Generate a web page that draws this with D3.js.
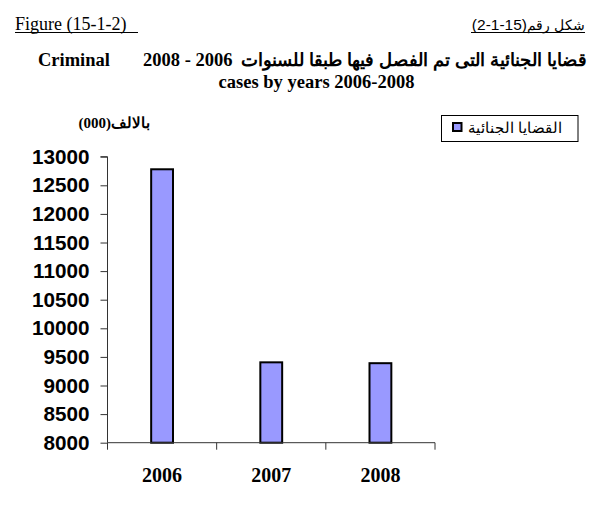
<!DOCTYPE html>
<html>
<head>
<meta charset="utf-8">
<script src="https://cdn.jsdelivr.net/npm/d3@7/dist/d3.min.js"></script>
<style>
  html, body { margin: 0; padding: 0; background: #fff; }
  svg { display: block; }
  text { white-space: pre; }
</style>
</head>
<body>
<svg id="chart" width="600" height="517"></svg>
<script>
// Criminal cases decided, in thousands, by year
const years = ["2006", "2007", "2008"];
const cases = [12780, 9405, 9390];
const yTicks = [8000, 8500, 9000, 9500, 10000, 10500, 11000, 11500, 12000, 12500, 13000];
const seriesName = "القضايا الجنائية";
const unitLabel = "بالالف(000)";
const titleArabic = "قضايا الجنائية التى تم الفصل فيها طبقا للسنوات";
const titleYears = "2008 - 2006";
const titleEn1 = "Criminal";
const titleEn2 = "cases by years 2006-2008";
const figEn = "Figure (15-1-2)";
const figArWord = "شكل رقم";
const figArNum = "(2-1-15)";

const svg = d3.select("#chart");
const serif = "'Liberation Serif', 'Times New Roman', serif";
const sans = "'Liberation Sans', Arial, sans-serif";
const barFill = "#9999FF";

const plot = { left: 107.5, right: 435, top: 156.7, bottom: 442.7 };

const x = d3.scaleBand()
  .domain(years)
  .range([plot.left, plot.right])
  .paddingInner(0.8)
  .paddingOuter(0.4);

const y = d3.scaleLinear()
  .domain([8000, 13000])
  .range([plot.bottom, plot.top]);

// Header line
svg.append("text")
  .attr("x", 15).attr("y", 30)
  .attr("font-family", serif).attr("font-size", 18)
  .text(figEn);
svg.append("line")
  .attr("x1", 15).attr("x2", 138).attr("y1", 32.5).attr("y2", 32.5)
  .attr("stroke", "#000").attr("stroke-width", 1);

svg.append("text")
  .attr("x", 585).attr("y", 30)
  .attr("text-anchor", "end")
  .attr("font-family", sans).attr("font-size", 13.5)
  .text(figArWord);
svg.append("text")
  .attr("x", 527).attr("y", 30)
  .attr("text-anchor", "end")
  .attr("font-family", sans).attr("font-size", 15.5)
  .text(figArNum);
svg.append("line")
  .attr("x1", 471).attr("x2", 585).attr("y1", 32.5).attr("y2", 32.5)
  .attr("stroke", "#000").attr("stroke-width", 1);

// Title, first line: Arabic words on the right, years, then "Criminal" on the left
svg.append("text")
  .attr("x", 587).attr("y", 66)
  .attr("text-anchor", "end")
  .attr("font-family", sans).attr("font-size", 18).attr("font-weight", "bold")
  .attr("textLength", 346).attr("lengthAdjust", "spacingAndGlyphs")
  .text(titleArabic);
svg.append("text")
  .attr("x", 143).attr("y", 66)
  .attr("font-family", serif).attr("font-size", 18.5).attr("font-weight", "bold")
  .text(titleYears);
svg.append("text")
  .attr("x", 38).attr("y", 66)
  .attr("font-family", serif).attr("font-size", 18.5).attr("font-weight", "bold")
  .text(titleEn1);
svg.append("text")
  .attr("x", 316.5).attr("y", 88)
  .attr("text-anchor", "middle")
  .attr("font-family", serif).attr("font-size", 18.5).attr("font-weight", "bold")
  .text(titleEn2);

// Unit label
svg.append("text")
  .attr("x", 150).attr("y", 128)
  .attr("direction", "rtl")
  .attr("text-anchor", "start")
  .attr("font-family", serif).attr("font-size", 15).attr("font-weight", "bold")
  .text(unitLabel);

// Y axis
const yAxis = d3.axisLeft(y).tickValues(yTicks).tickSize(7).tickPadding(11).tickFormat(d3.format("d"));
const gy = svg.append("g")
  .attr("transform", `translate(${plot.left},0)`)
  .call(yAxis);
gy.select(".domain").attr("stroke", "#333").attr("d", `M-7,${plot.top}H0V${plot.bottom}`);
gy.selectAll(".tick line").attr("stroke", "#333");
gy.selectAll(".tick text")
  .attr("font-family", sans).attr("font-size", 20.7).attr("font-weight", "bold").attr("fill", "#000");

// Bars
svg.append("g").selectAll("rect")
  .data(years.map((yr, i) => ({ yr, v: cases[i] })))
  .join("rect")
  .attr("x", d => x(d.yr))
  .attr("width", x.bandwidth())
  .attr("y", d => y(d.v))
  .attr("height", d => y(8000) - y(d.v))
  .attr("fill", barFill)
  .attr("stroke", "#000")
  .attr("stroke-width", 2);

// X axis with tick marks between categories
const gx = svg.append("g");
gx.append("line")
  .attr("x1", plot.left).attr("x2", plot.right)
  .attr("y1", plot.bottom).attr("y2", plot.bottom)
  .attr("stroke", "#333");
const step = x.step();
d3.range(years.length + 1).forEach(i => {
  const tx = plot.left + i * step;
  gx.append("line")
    .attr("x1", tx).attr("x2", tx)
    .attr("y1", plot.bottom).attr("y2", plot.bottom + 7)
    .attr("stroke", "#333");
});
gx.selectAll("text.cat")
  .data(years)
  .join("text")
  .attr("class", "cat")
  .attr("x", d => x(d) + x.bandwidth() / 2)
  .attr("y", 481.5)
  .attr("text-anchor", "middle")
  .attr("font-family", serif).attr("font-size", 20).attr("font-weight", "bold")
  .text(d => d);

// Legend
const lg = svg.append("g");
lg.append("rect")
  .attr("x", 441.5).attr("y", 115.5).attr("width", 136.5).attr("height", 26)
  .attr("fill", "#fff").attr("stroke", "#000").attr("stroke-width", 1);
lg.append("rect")
  .attr("x", 453).attr("y", 123).attr("width", 8.5).attr("height", 8)
  .attr("fill", barFill).attr("stroke", "#000").attr("stroke-width", 2);
lg.append("text")
  .attr("x", 562).attr("y", 133)
  .attr("text-anchor", "end")
  .attr("font-family", sans).attr("font-size", 15)
  .text(seriesName);
</script>
</body>
</html>
